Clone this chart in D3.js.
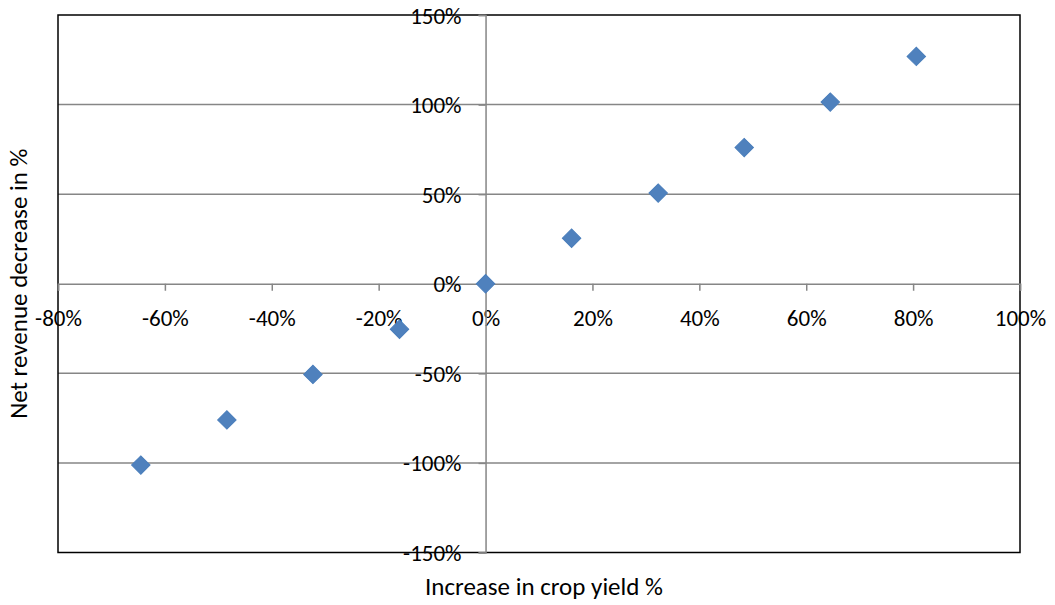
<!DOCTYPE html>
<html><head><meta charset="utf-8">
<script src="https://cdn.jsdelivr.net/npm/d3@7"></script>
<style>body{margin:0;background:#fff}svg{display:block}text{font-family:Carlito,Calibri,Lato,"Open Sans",sans-serif;fill:#000}</style>
</head><body>
<svg id="c" width="1055" height="605"></svg>
<script>
const cropYield = [-64.5, -48.4, -32.3, -16.1, 0, 16.1, 32.3, 48.4, 64.5, 80.6];
const revenueChange = [-101.2, -76.0, -50.6, -25.4, 0, 25.4, 50.6, 76.0, 101.4, 126.9];
const xTicks = [-80, -60, -40, -20, 0, 20, 40, 60, 80, 100];
const yTicks = [-150, -100, -50, 0, 50, 100, 150];
const xTitle = "Increase in crop yield %";
const yTitle = "Net revenue decrease in %";

const svg = d3.select("#c");
const L = 58, R = 1020, T = 15, B = 552.5;
const x = d3.scaleLinear().domain([-80, 100]).range([L, R]);
const y = d3.scaleLinear().domain([-150, 150]).range([B, T]);
const grey = "#868686";
const fsTick = 23, fsTitle = 25;
const ff = "Carlito,Calibri,Lato,'Open Sans',sans-serif";

// gridlines
svg.append("g").selectAll("line").data(yTicks.filter(d => d !== 0 && Math.abs(d) !== 150)).join("line")
  .attr("x1", L).attr("x2", R).attr("y1", d => y(d)).attr("y2", d => y(d))
  .attr("stroke", grey).attr("stroke-width", 1.5);

// plot border
svg.append("rect").attr("x", L).attr("y", T).attr("width", R - L).attr("height", B - T)
  .attr("fill", "none").attr("stroke", "#000").attr("stroke-width", 1.5);

// x axis at y=0
const xAxis = d3.axisBottom(x).tickValues(xTicks).tickSize(7).tickFormat(d => d + "%");
const gx = svg.append("g").attr("transform", `translate(0,${y(0)})`).call(xAxis);
gx.attr("font-family", null).attr("font-size", null);
gx.select(".domain").attr("stroke", grey).attr("stroke-width", 1.5);
gx.selectAll(".tick line").attr("stroke", grey).attr("stroke-width", 1.5);
gx.selectAll(".tick text").attr("font-size", fsTick).attr("dy", null).attr("y", 42)
  .style("font-family", ff);

// y axis at x=0
const yAxis = d3.axisLeft(y).tickValues(yTicks).tickSize(7).tickFormat(d => d + "%");
const gy = svg.append("g").attr("transform", `translate(${x(0)},0)`).call(yAxis);
gy.attr("font-family", null).attr("font-size", null);
gy.select(".domain").attr("stroke", grey).attr("stroke-width", 1.5);
gy.selectAll(".tick line").attr("stroke", grey).attr("stroke-width", 1.5);
gy.selectAll(".tick text").attr("font-size", fsTick).attr("x", -24).attr("dy", "0.35em")
  .style("font-family", ff);

// points
const pts = cropYield.map((v, i) => ({x: v, y: revenueChange[i]}));
svg.append("g").selectAll("path").data(pts).join("path")
  .attr("d", d3.symbol(d3.symbolSquare, 170)())
  .attr("transform", d => `translate(${x(d.x)},${y(d.y)}) rotate(45)`)
  .attr("fill", "#4F81BD").attr("stroke", "#4A7EBB").attr("stroke-width", 1);

// titles
svg.append("text").attr("x", (L + R) / 2 + 5).attr("y", 595).attr("text-anchor", "middle")
  .attr("font-size", fsTitle).text(xTitle);
svg.append("text").attr("transform", `translate(27,${(T + B) / 2}) rotate(-90)`)
  .attr("text-anchor", "middle").attr("font-size", fsTitle).text(yTitle);
</script>
</body></html>
